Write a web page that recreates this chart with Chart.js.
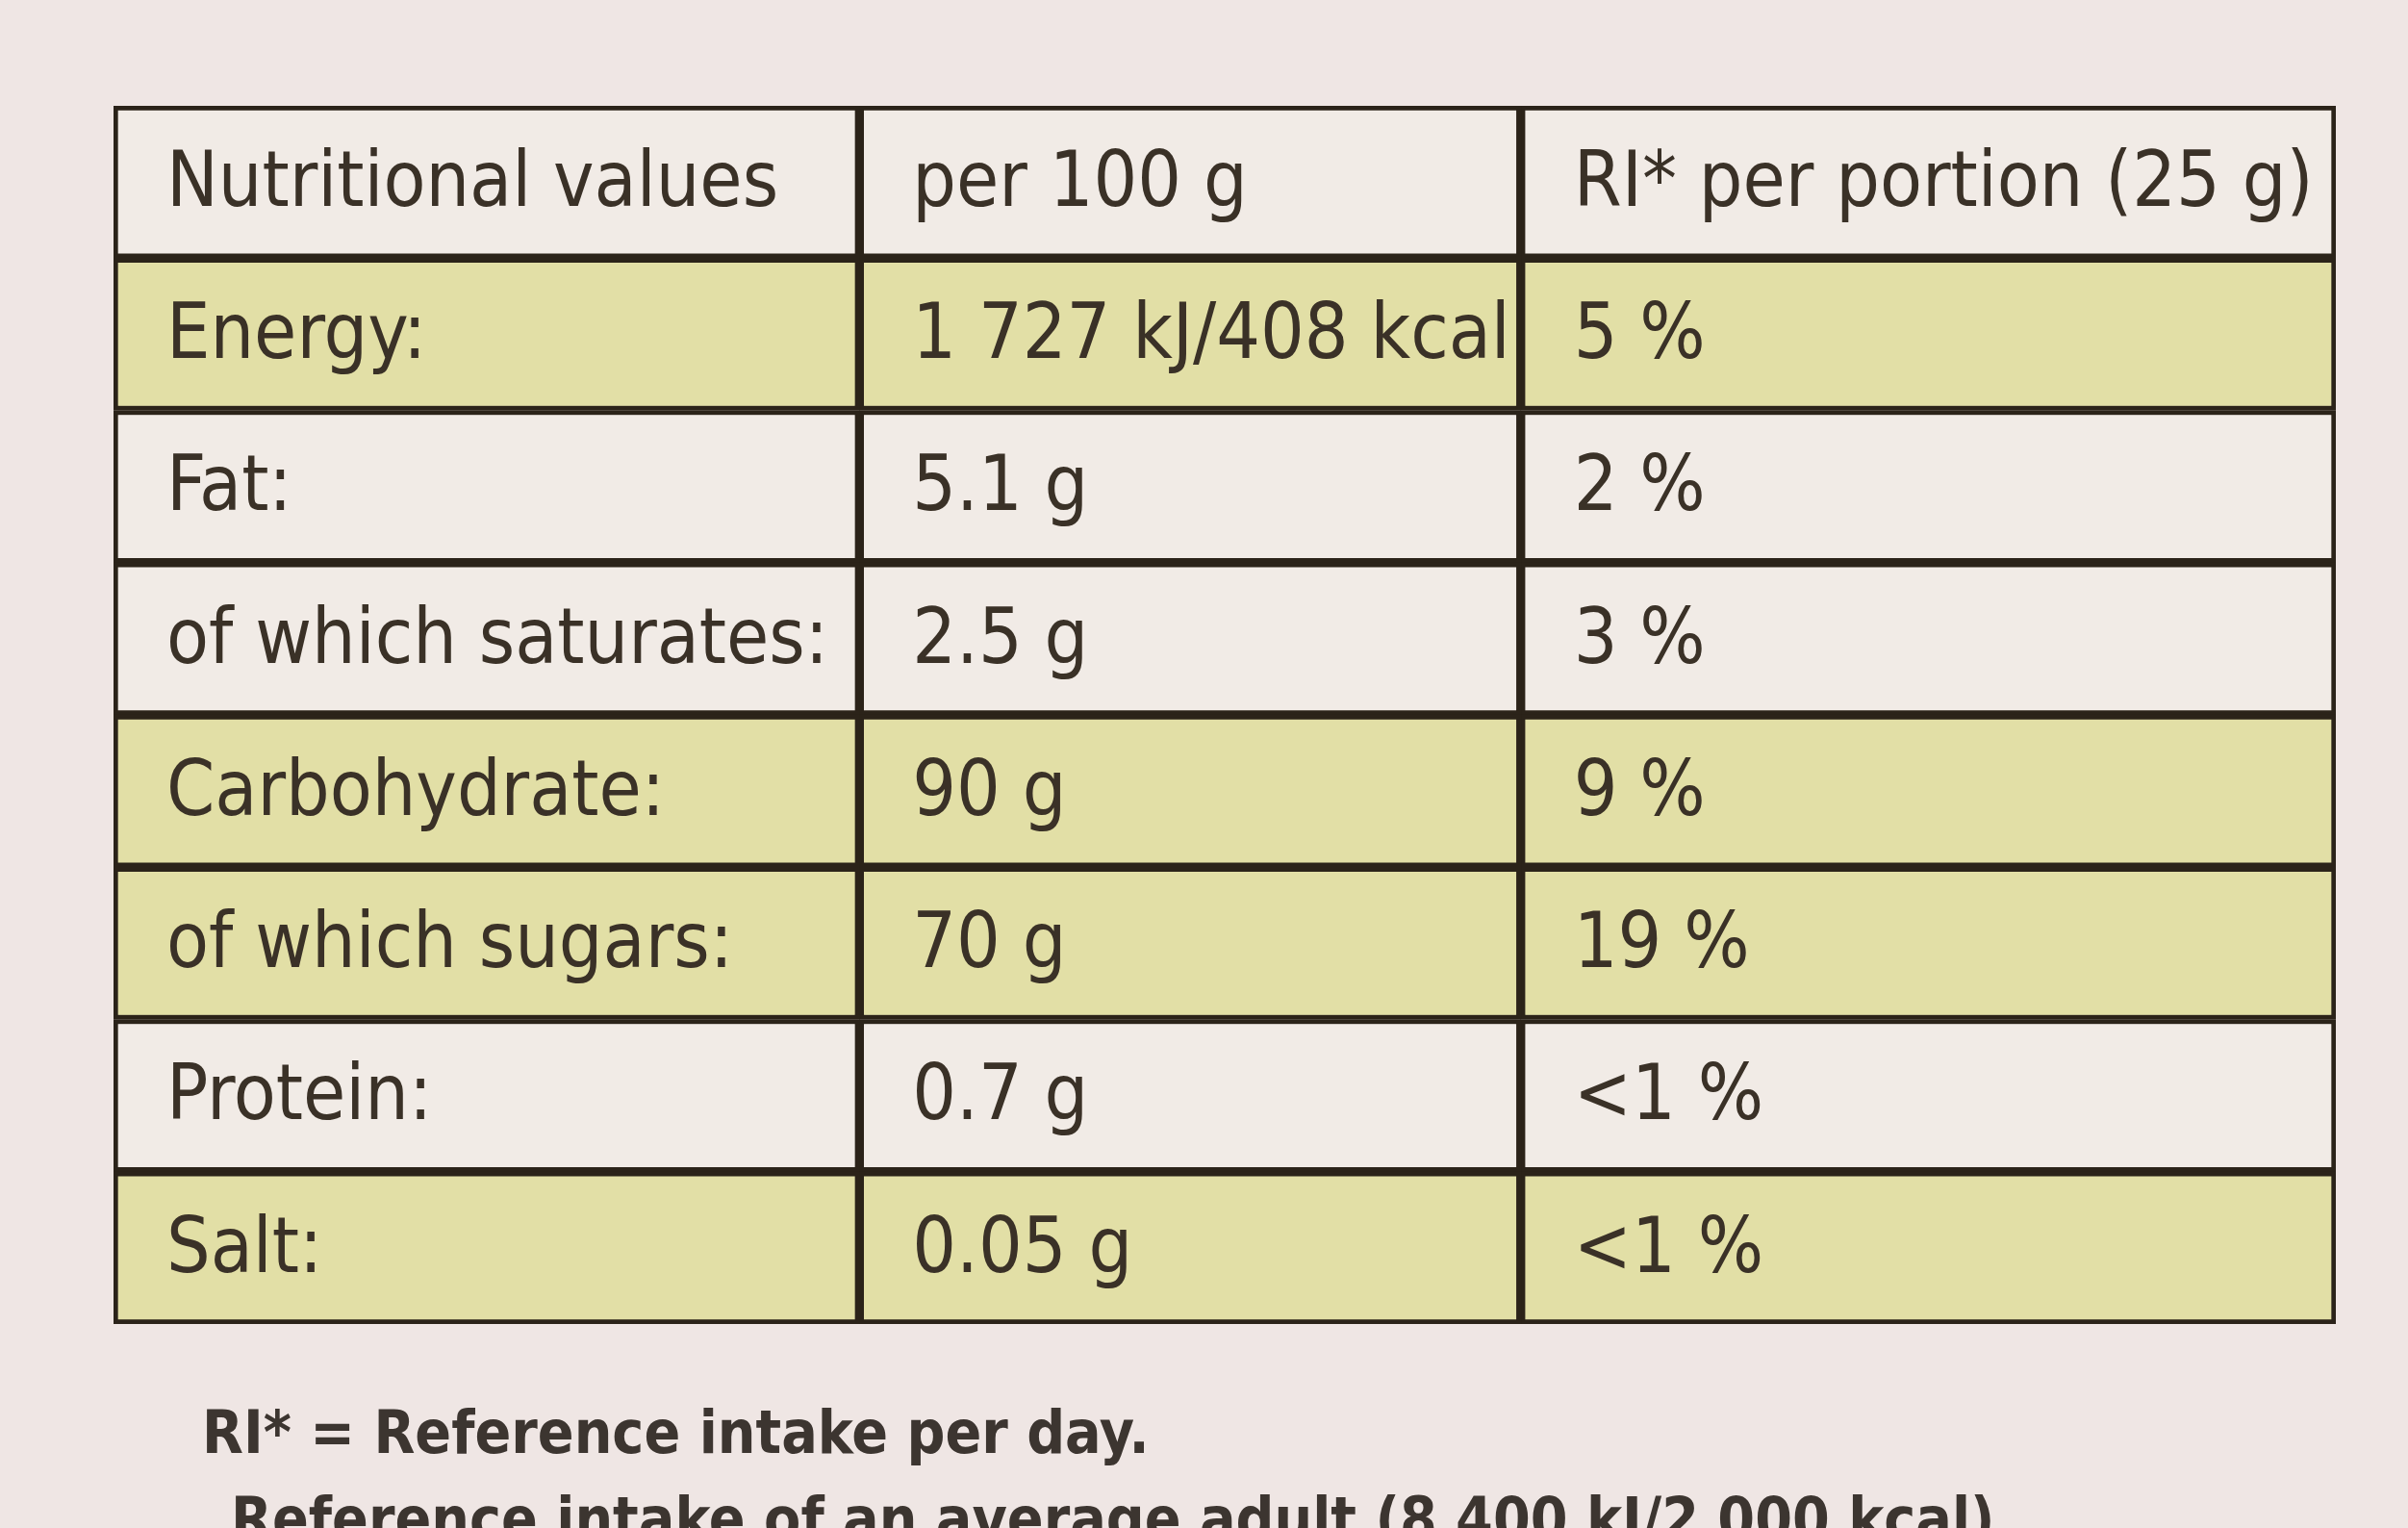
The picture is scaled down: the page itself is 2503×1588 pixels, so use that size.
<!DOCTYPE html>
<html><head><meta charset="utf-8">
<script src="https://cdn.jsdelivr.net/npm/chart.js@4"></script>
<style>html,body{margin:0;padding:0;background:#efe6e4;}#w{width:2503px;height:1588px;}</style>
</head><body><div id="w"><canvas id="c"></canvas></div>
<script>
const rows = ["Nutritional values","Energy:","Fat:","of which saturates:","Carbohydrate:","of which sugars:","Protein:","Salt:"];
const per100 = ["per 100 g","1 727 kJ/408 kcal","5.1 g","2.5 g","90 g","70 g","0.7 g","0.05 g"];
const riPortion = ["RI* per portion (25 g)","5 %","2 %","3 %","9 %","19 %","<1 %","<1 %"];
const rowShade = ["white","yellow","white","white","yellow","yellow","white","yellow"];
const colEdges = [0, 485, 915, 1445];
const colTexts = [rows, per100, riPortion];
const shadeColor = {white:"#f1ebe6", yellow:"#e2dfa6"};
const footnotes = ["RI* = Reference intake per day.","Reference intake of an average adult (8 400 kJ/2 000 kcal)."];

const datasets = colTexts.map((texts, ci) => ({
  label: "col" + ci,
  data: rows.map(() => [colEdges[ci], colEdges[ci+1]]),
  texts: texts,
  backgroundColor: rowShade.map(s => shadeColor[s]),
  borderColor: "#2b2319",
  borderWidth: 5,
  borderSkipped: false,
  barPercentage: 1, categoryPercentage: 1, grouped: false
}));

const textPlugin = {
  id: "cellText",
  afterDatasetsDraw(chart) {
    const ctx = chart.ctx;
    ctx.save();
    ctx.fillStyle = "#3a3127";
    ctx.font = '80px "Liberation Sans Narrow", "DejaVu Sans Condensed", sans-serif';
    ctx.textBaseline = "middle";
    chart.data.datasets.forEach((ds, di) => {
      chart.getDatasetMeta(di).data.forEach((el, i) => {
        const p = el.getProps(["x","y","base"], true);
        ctx.fillText(ds.texts[i], Math.min(p.x, p.base) + 55, p.y + 4);
      });
    });
    ctx.font = 'bold 62px "Liberation Sans Narrow", "DejaVu Sans Condensed", sans-serif';
    ctx.fillStyle = "#3c3530";
    ctx.textBaseline = "alphabetic";
    ctx.fillText(footnotes[0], 210, 1510);
    ctx.fillText(footnotes[1], 240, 1600);
    ctx.restore();
  }
};

new Chart(document.getElementById("c"), {
  type: "bar",
  data: { labels: rows, datasets },
  plugins: [textPlugin],
  options: {
    indexAxis: "y", responsive: true, maintainAspectRatio: false, animation: false,
    layout: { padding: { left: 118, right: 75, top: 110, bottom: 212 } },
    plugins: { legend: { display: false }, tooltip: { enabled: false } },
    scales: {
      x: { display: false, min: 0, max: 1445 },
      y: { display: false }
    }
  }
});
</script></body></html>
